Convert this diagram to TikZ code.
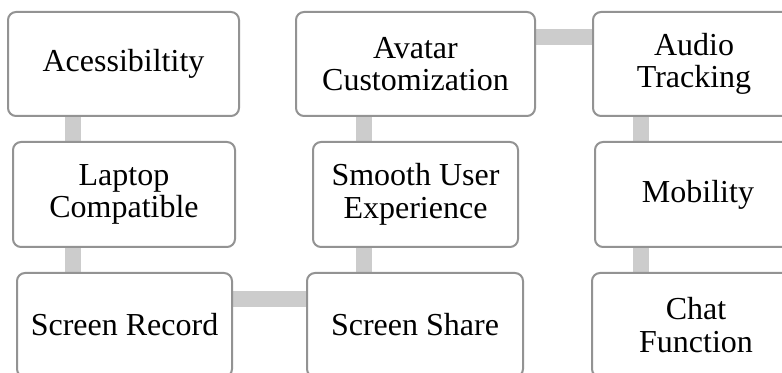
\documentclass[tikz,border=0pt]{standalone}
\usepackage{fontspec}
\setmainfont{Liberation Serif}
\usetikzlibrary{backgrounds}
\definecolor{boxline}{HTML}{939393}
\definecolor{connfill}{HTML}{CCCCCC}
\tikzset{
  box/.style={draw=boxline, line width=1.5pt, fill=white, rounded corners=6pt,
    align=center, inner sep=0pt, font=\fontsize{24}{24.5}\selectfont},
  conn/.style={draw=connfill, line width=12pt}
}
\begin{document}
\begin{tikzpicture}[x=0.75pt,y=-0.75pt]
\useasboundingbox (0,0) rectangle (782,373);
\clip (0,0) rectangle (782,373);
\node[box, minimum width=231*0.75pt, minimum height=104*0.75pt] (acc) at (123.5,64) {Acessibiltity};
\node[box, minimum width=222*0.75pt, minimum height=105*0.75pt] (lap) at (124,194.5) {Laptop\\Compatible};
\node[box, minimum width=215*0.75pt, minimum height=104*0.75pt] (rec) at (124.5,325) {Screen Record};
\node[box, minimum width=239*0.75pt, minimum height=104*0.75pt] (ava) at (415.5,64) {Avatar\\Customization};
\node[box, minimum width=205*0.75pt, minimum height=105*0.75pt] (smo) at (415.5,194.5) {Smooth User\\Experience};
\node[box, minimum width=216*0.75pt, minimum height=104*0.75pt] (sha) at (415,325) {Screen Share};
\node[box, minimum width=202*0.75pt, minimum height=104*0.75pt] (aud) at (694,64) {Audio\\Tracking};
\node[box, minimum width=206*0.75pt, minimum height=105*0.75pt] (mob) at (698,194.5) {Mobility};
\node[box, minimum width=208*0.75pt, minimum height=104*0.75pt] (cha) at (696,325) {Chat\\Function};
\coordinate (k1) at (73,0);
\coordinate (k2) at (364,0);
\coordinate (k3) at (641,0);
\coordinate (r1) at (0,299.5);
\coordinate (r2) at (0,37);
\begin{scope}[on background layer]
\draw[conn] (acc.south -| k1) -- (lap.north -| k1);
\draw[conn] (lap.south -| k1) -- (rec.north -| k1);
\draw[conn] (rec.east |- r1) -- (sha.west |- r1);
\draw[conn] (sha.north -| k2) -- (smo.south -| k2);
\draw[conn] (smo.north -| k2) -- (ava.south -| k2);
\draw[conn] (ava.east |- r2) -- (aud.west |- r2);
\draw[conn] (aud.south -| k3) -- (mob.north -| k3);
\draw[conn] (mob.south -| k3) -- (cha.north -| k3);
\end{scope}
\end{tikzpicture}
\end{document}
